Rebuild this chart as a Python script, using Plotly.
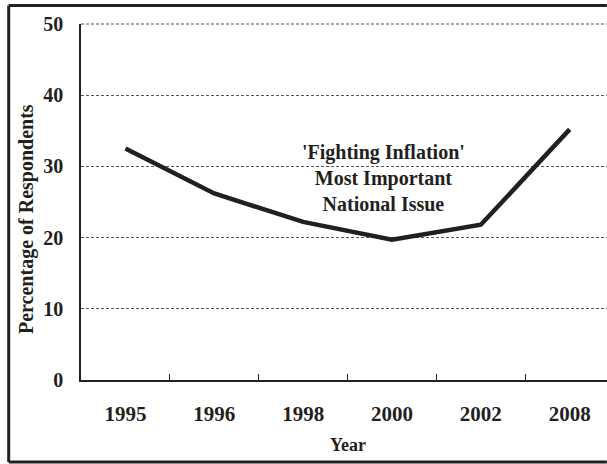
import plotly.graph_objects as go

years = ["1995", "1996", "1998", "2000", "2002", "2008"]
pct = [32.5, 26.2, 22.2, 19.7, 21.8, 35.2]
y_ticks = [0, 10, 20, 30, 40, 50]

INK = "#231f20"
GRID = "#555555"
FONT = "Liberation Serif"

W, H = 607, 464
L, R, T, B = 81, 0, 24, 84
pw = W - L - R
ph = H - T - B

fig = go.Figure()
fig.add_trace(go.Scatter(
    x=years, y=pct, mode="lines",
    line=dict(color=INK, width=4.5),
    hoverinfo="skip", showlegend=False,
))

def px_x(p):
    return (p - L) / pw

def px_y(p):
    return (H - B - p) / ph

fx0, fx1 = px_x(8.7), px_x(606.9)
fy0, fy1 = px_y(462), px_y(5.5)
frame = dict(color=INK, width=3)

shapes = [
    dict(type="line", xref="paper", yref="paper", x0=fx0, x1=fx0, y0=fy0, y1=fy1,
         line=frame, layer="above"),
    dict(type="line", xref="paper", yref="paper", x0=fx0, x1=fx1, y0=fy0, y1=fy0,
         line=frame, layer="above"),
    # top gridline at 50 (edge of plot area)
    dict(type="line", xref="paper", yref="paper", x0=0, x1=1, y0=1, y1=1,
         line=dict(color=GRID, width=1, dash="3px,2px"), layer="above"),
]
# top border of the frame, drawn in short segments
seg_edges = [8.7, 80, 160, 240, 320, 400, 480, 560, 606.9]
for a, b in zip(seg_edges[:-1], seg_edges[1:]):
    shapes.append(dict(type="line", xref="paper", yref="paper",
                       x0=px_x(a), x1=px_x(b), y0=fy1, y1=fy1,
                       line=dict(color="rgb(35,31,32)", width=3), layer="above"))

fig.update_layout(
    width=W, height=H,
    margin=dict(l=L, r=R, t=T, b=B, pad=0),
    paper_bgcolor="white", plot_bgcolor="white",
    font=dict(family=FONT, color=INK, size=19, weight="bold"),
    xaxis=dict(
        type="category", range=[-0.5, 5.42],
        showgrid=False, zeroline=False,
        showline=True, linecolor=INK, linewidth=1.5,
        ticks="inside", tickson="boundaries", ticklen=6, tickwidth=1, tickcolor=INK,
        tickfont=dict(family=FONT, size=21, color=INK, weight="bold"),
        ticklabelstandoff=14,
    ),
    yaxis=dict(
        range=[0, 50], tickvals=y_ticks,
        showgrid=True, gridcolor=GRID, griddash="3px,2px", gridwidth=1,
        zeroline=False,
        showline=True, linecolor=INK, linewidth=1.5,
        ticks="",
        tickfont=dict(family=FONT, size=20, color=INK, weight="bold"),
        ticklabelstandoff=12,
    ),
    annotations=[
        dict(text="'Fighting Inflation'<br>Most Important<br>National Issue",
             x=2.9, y=28.4, xref="x", yref="y", showarrow=False,
             xanchor="center", yanchor="middle", align="center",
             font=dict(family=FONT, size=20, color=INK, weight="bold")),
        dict(text="Year", x=2.5, y=px_y(445), xref="x", yref="paper",
             showarrow=False, xanchor="center", yanchor="middle",
             font=dict(family=FONT, size=18, color=INK, weight="bold")),
        dict(text="Percentage of Respondents", x=px_x(27), y=px_y(219),
             xref="paper", yref="paper", textangle=-90, showarrow=False,
             xanchor="center", yanchor="middle",
             font=dict(family=FONT, size=20, color=INK, weight="bold")),
    ],
    shapes=shapes,
)

fig.write_html("out.html", config={"displayModeBar": False},
               post_script="document.body.style.margin='0';")
